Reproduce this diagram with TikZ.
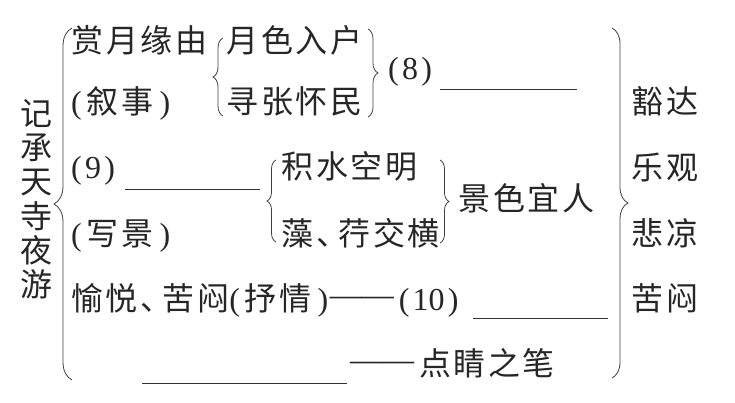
\documentclass[tikz,border=0pt]{standalone}
\usepackage{fontspec}
\setmainfont{Liberation Serif}
\newfontfamily\cjk[LetterSpace=8]{Noto Sans CJK SC}
\usetikzlibrary{decorations.pathreplacing}
\newcommand{\lp}{(\kern.15em}
\newcommand{\rp}{\kern.2em)}
\newcommand{\num}[1]{(\kern.1em#1\kern.1em)}
\newcommand{\dash}{\raisebox{.13em}{——}}

\begin{document}
\begin{tikzpicture}[
        x=1pt, y=-1pt,
        item/.style={inner sep=0pt, anchor=base west, text=black!85, font=\fontsize{32}{34}\selectfont},
        cbrace/.style={draw=black!75, line width=0.8pt, decorate, decoration={brace, amplitude=#1}},
        blank/.style={draw=black!80, line width=1pt}
    ]
        \useasboundingbox (0,0) rectangle (735,403);

        % Title, written top to bottom
        \foreach \ch [count=\i from 0] in {记,承,天,寺,夜,游}
            \node[item, anchor=base] (title\i) at (36,126+34*\i) {\cjk\ch};

        % Outer braces
        \draw[cbrace=18] (72,380) -- (72,28);
        \draw[cbrace=16] (612,28) -- (612,378);

        % Row 1-2: narration
        \node[item] (shang) at (71.5,53) {\cjk 赏月缘由};
        \node[item] (xushi) at (71,114) {\lp{\cjk 叙事}\rp};
        \draw[cbrace=10] (223,116) -- (223,38);
        \node[item] (yuese) at (226.5,53) {\cjk 月色入户};
        \node[item] (xunzhang) at (226.5,114) {\cjk 寻张怀民};
        \draw[cbrace=10] (368,29) -- (368,117);
        \node[item] (q8) at (388,80) {\num{8}};
        \draw[blank] (440,90) -- (577,90);

        % Row 3-4: scenery
        \node[item] (q9) at (71,179) {\num{9}};
        \draw[blank] (125,190) -- (260,190);
        \node[item] (xiejing) at (71,245) {\lp{\cjk 写景}\rp};
        \draw[cbrace=9] (276,242) -- (276,160);
        \node[item] (jishui) at (281.5,179) {\cjk 积水空明};
        \node[item] (zaoxing) at (281.5,245) {\cjk 藻、\kern-.3em 荇交横};
        \draw[cbrace=9] (440,160) -- (440,243);
        \node[item] (jingse) at (458.5,211) {\cjk 景色宜人};

        % Row 5-6: feeling
        \node[item] (shuqing) at (71,310) {{\cjk 愉悦、\kern-.3em 苦闷}\lp{\cjk 抒情}\rp\kern.05em\dash\kern.15em\num{10}};
        \draw[blank] (473,318) -- (608,318);
        \draw[blank] (142,383) -- (347,383);
        \node[item] (dianjing) at (350,375) {\dash\kern.15em{\cjk 点睛之笔}};

        % Right column
        \node[item] (huoda) at (631.5,114) {\cjk 豁达};
        \node[item] (leguan) at (631.5,180) {\cjk 乐观};
        \node[item] (beiliang) at (631.5,245) {\cjk 悲凉};
        \node[item] (kumen) at (631.5,310) {\cjk 苦闷};
    \end{tikzpicture}
\end{document}
